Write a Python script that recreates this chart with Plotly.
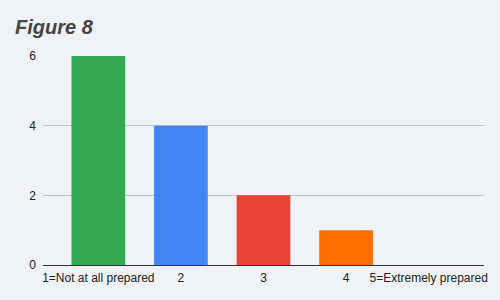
import plotly.graph_objects as go

categories = ["1=Not at all prepared", "2", "3", "4", "5=Extremely prepared"]
values = [6, 4, 2, 1, 0]
colors = ["#34a853", "#4285f4", "#ea4335", "#ff6d01", "#46bdc6"]

fig = go.Figure(go.Bar(
    x=list(range(len(categories))), y=values,
    marker=dict(color=colors, line=dict(width=0)),
    width=0.65, hoverinfo="skip",
))

fig.update_layout(
    width=500, height=300,
    margin=dict(l=43, r=14, t=56, b=35),
    paper_bgcolor="#eff2f7", plot_bgcolor="#eff2f7",
    font=dict(family="Liberation Sans, Arial", size=12, color="#222222"),
    showlegend=False,
    title=dict(text="<b><i>Figure 8</i></b>", x=0.03, xanchor="left",
               xref="container", y=0.91, yanchor="middle", yref="container",
               font=dict(size=20, color="#444444", family="Liberation Sans, Arial")),
    xaxis=dict(range=[-0.67, 4.67], tickmode="array",
               tickvals=list(range(len(categories))), ticktext=categories,
               showgrid=False, zeroline=False, showline=False, ticks="",
               ticklabelstandoff=4, fixedrange=True),
    yaxis=dict(range=[0, 6], dtick=2, showgrid=True, gridcolor="#bfc2c7",
               gridwidth=1, zeroline=True, zerolinecolor="#333333", zerolinewidth=1,
               showline=False, ticks="", ticklabelstandoff=6, fixedrange=True),
)

fig.write_html("out.html")
